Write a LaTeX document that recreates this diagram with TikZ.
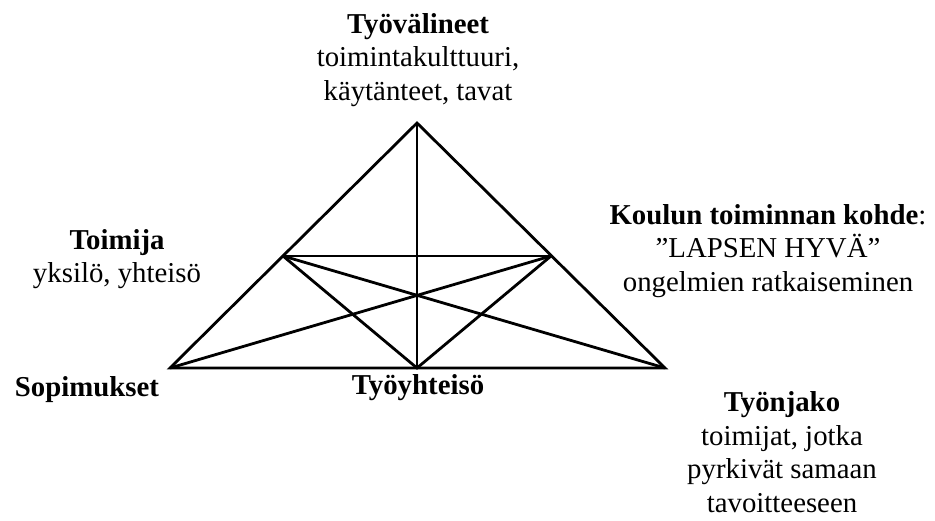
\documentclass[tikz,border=0pt]{standalone}
\usepackage{fontspec}
\setmainfont{Liberation Serif}
\tikzset{
    edge/.style={line width=1.4pt, line join=miter},
    block/.style={align=center, inner sep=0pt, font=\fontsize{14.4}{16.8}\selectfont}
}
\begin{document}
\begin{tikzpicture}[x=0.5pt, y=-0.5pt]
    \useasboundingbox (0,0) rectangle (935,520);

    % Corners of the triangle
    \coordinate (apex) at (417,123);
    \coordinate (sl) at (170,368);
    \coordinate (sr) at (665,368);
    \coordinate (ml) at (283,256);
    \coordinate (mr) at (551,256);
    \coordinate (bm) at (417,368);

    % Lines
    \draw[edge] (apex) -- (sl) -- (sr) -- cycle;
    \draw[edge] (apex) -- (bm);
    \draw[edge] (ml) -- (mr);
    \draw[edge] (ml) -- (sr);
    \draw[edge] (mr) -- (sl);
    \draw[edge] (ml) -- (bm) -- (mr);

    % Labels
    \node[block] (tools) at (418,60) {\textbf{Työvälineet}\\toimintakulttuuri,\\käytänteet, tavat};
    \node[block] (subject) at (117,259) {\textbf{Toimija}\\yksilö, yhteisö};
    \node[block] (object) at (768,251) {\textbf{Koulun toiminnan kohde}:\\”LAPSEN HYVÄ”\\ongelmien ratkaiseminen};
    \node[block] (rules) at (87,390) {\textbf{Sopimukset}};
    \node[block] (community) at (418,388) {\textbf{Työyhteisö}};
    \node[block] (division) at (782,452) {\textbf{Työnjako}\\toimijat, jotka\\pyrkivät samaan\\tavoitteeseen};
\end{tikzpicture}
\end{document}
